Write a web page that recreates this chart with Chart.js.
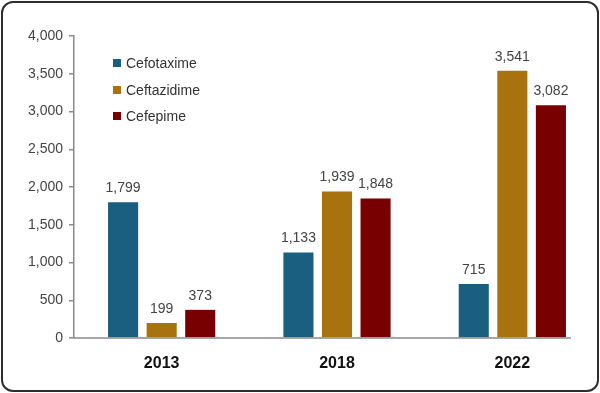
<!DOCTYPE html>
<html>
<head>
<meta charset="utf-8">
<script src="https://cdn.jsdelivr.net/npm/chart.js@4/dist/chart.umd.min.js"></script>
<style>
  html, body { margin: 0; padding: 0; background: #fff; }
  #wrap { position: relative; width: 600px; height: 393px; overflow: hidden; }
  #frame { position: absolute; left: 1px; top: 1px; width: 594px; height: 387px; border: 2px solid #2e2e2e; border-radius: 12px; pointer-events: none; }
  canvas { position: absolute; left: 0; top: 0; }
  #legend { position: absolute; left: 113px; top: 50px; font-family: 'Liberation Sans', Arial, sans-serif; font-size: 14px; color: #333; }
  #legend div { height: 26.5px; line-height: 18px; display: flex; align-items: center; }
  #legend span.sw { display: inline-block; width: 8px; height: 8px; margin-right: 5px; }
</style>
</head>
<body>
<div id="wrap">
  <canvas id="c" width="600" height="393"></canvas>
  <div id="legend"></div>
  <div id="frame"></div>
</div>
<script>
const categories = ['2013', '2018', '2022'];
const seriesNames = ['Cefotaxime', 'Ceftazidime', 'Cefepime'];
const cefotaxime = [1799, 1133, 715];
const ceftazidime = [199, 1939, 3541];
const cefepime = [373, 1848, 3082];
const seriesColors = ['#1a5e80', '#a8730f', '#790000'];
const yTicks = [0, 500, 1000, 1500, 2000, 2500, 3000, 3500, 4000];

const seriesValues = [cefotaxime, ceftazidime, cefepime];
const fmt = v => v.toLocaleString('en-US');

const labelPlugin = {
  id: 'barLabels',
  afterDatasetsDraw(chart) {
    const ctx = chart.ctx;
    ctx.save();
    ctx.font = '14px "Liberation Sans", Arial, sans-serif';
    ctx.fillStyle = '#444';
    ctx.textAlign = 'center';
    ctx.textBaseline = 'bottom';
    chart.data.datasets.forEach((ds, i) => {
      const meta = chart.getDatasetMeta(i);
      meta.data.forEach((bar, j) => {
        ctx.fillText(fmt(ds.data[j]), bar.x, bar.y - 7);
      });
    });
    ctx.restore();
  }
};

const baseLinePlugin = {
  id: 'baseLine',
  afterDatasetsDraw(chart) {
    const n = chart.data.datasets.length;
    const meta = chart.getDatasetMeta(n - 1);
    const last = meta.data[meta.data.length - 1];
    const y = chart.scales.y.getPixelForValue(0);
    const ctx = chart.ctx;
    ctx.save();
    ctx.strokeStyle = '#8a8a8a';
    ctx.lineWidth = 1.5;
    ctx.beginPath();
    ctx.moveTo(chart.chartArea.left, y);
    ctx.lineTo(last.x + last.width / 2 + 5, y);
    ctx.stroke();
    ctx.restore();
  }
};

const chart = new Chart(document.getElementById('c'), {
  type: 'bar',
  data: {
    labels: categories,
    datasets: seriesNames.map((name, i) => ({
      label: name,
      data: seriesValues[i],
      backgroundColor: seriesColors[i],
      borderWidth: 0,
      categoryPercentage: 0.66,
      barPercentage: 0.78
    }))
  },
  options: {
    responsive: false,
    animation: false,
    devicePixelRatio: 1,
    layout: { padding: { top: 36, right: 0, left: 1, bottom: 0 } },
    plugins: { legend: { display: false }, tooltip: { enabled: false } },
    scales: {
      x: {
        grid: { display: false },
        border: { display: false },
        ticks: { color: '#111', font: { family: '"Liberation Sans", Arial, sans-serif', size: 16, weight: 'bold' }, padding: 8 },
        afterFit(scale) { scale.height = 55; }
      },
      y: {
        min: 0,
        max: 4000,
        afterBuildTicks(scale) { scale.ticks = yTicks.map(v => ({ value: v })); },
        grid: { display: true, drawOnChartArea: false, drawTicks: true, tickLength: 5, color: '#8a8a8a', lineWidth: 1.5 },
        border: { display: true, color: '#8a8a8a', width: 1.5 },
        ticks: { color: '#444', font: { family: '"Liberation Sans", Arial, sans-serif', size: 14 }, padding: 6, callback: v => fmt(v) },
        afterFit(scale) { scale.width = 73; }
      }
    }
  },
  plugins: [labelPlugin, baseLinePlugin]
});

const legend = document.getElementById('legend');
seriesNames.forEach((name, i) => {
  const d = document.createElement('div');
  const s = document.createElement('span');
  s.className = 'sw';
  s.style.background = seriesColors[i];
  d.appendChild(s);
  d.appendChild(document.createTextNode(name));
  legend.appendChild(d);
});
</script>
</body>
</html>
